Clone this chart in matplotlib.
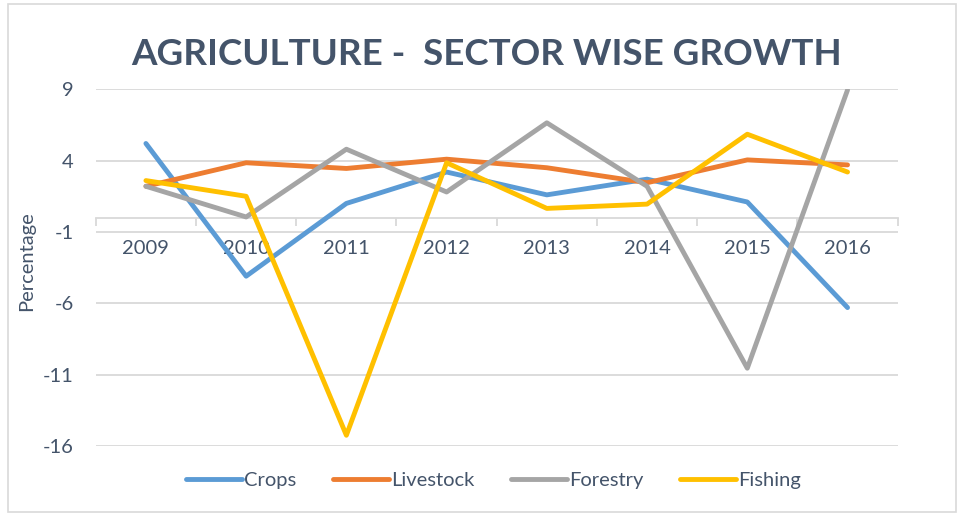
import matplotlib.pyplot as plt
from matplotlib.patches import Rectangle

years = ['2009', '2010', '2011', '2012', '2013', '2014', '2015', '2016']
crops = [5.2, -4.1, 1.0, 3.2, 1.6, 2.7, 1.1, -6.3]
livestock = [2.2, 3.85, 3.45, 4.1, 3.5, 2.45, 4.05, 3.7]
forestry = [2.2, 0.05, 4.8, 1.8, 6.65, 2.2, -10.55, 8.95]
fishing = [2.6, 1.5, -15.25, 3.85, 0.65, 0.95, 5.85, 3.2]
yticks = [9, 4, -1, -6, -11, -16]

series = [('Crops', crops, '#5B9BD5'),
          ('Livestock', livestock, '#ED7D31'),
          ('Forestry', forestry, '#A5A5A5'),
          ('Fishing', fishing, '#FFC000')]

plt.rcParams['font.family'] = ['Lato', 'DejaVu Sans']
plt.rcParams['axes.unicode_minus'] = False
text_col = '#44546A'
grid_col = '#D9D9D9'

fig = plt.figure(figsize=(9.58, 5.16), dpi=100)
ax = fig.add_axes([0.1, 0.1357, 0.837, 0.6913])

x = list(range(len(years)))
for name, vals, col in series:
    ax.plot(x, vals, color=col, lw=3.5, label=name,
            solid_capstyle='round', solid_joinstyle='round', zorder=3)

ax.set_xlim(-0.5, len(years) - 0.5)
ax.set_ylim(-16, 9)
ax.set_yticks(yticks)
ax.tick_params(axis='y', length=0, labelsize=14.5, labelcolor=text_col, pad=16)
ax.grid(axis='y', color=grid_col, lw=1.3)
ax.set_axisbelow(True)

# category axis sits on the zero line
for s in ['top', 'right', 'left']:
    ax.spines[s].set_visible(False)
ax.spines['bottom'].set_position(('data', 0))
ax.spines['bottom'].set_color(grid_col)
ax.spines['bottom'].set_linewidth(1.3)
ax.set_xticks(x)
ax.set_xticklabels(years)
ax.set_xticks([i - 0.5 for i in range(len(years) + 1)], minor=True)
ax.tick_params(axis='x', which='major', length=0, labelsize=14.5,
               labelcolor=text_col, pad=16)
ax.tick_params(axis='x', which='minor', length=6, width=1.3, color=grid_col,
               direction='out')

ax.set_ylabel('Percentage', fontsize=14.5, color=text_col)
ax.yaxis.set_label_coords(-0.076, 0.518)

fig.text(0.508, 0.895, 'AGRICULTURE -  SECTOR WISE GROWTH', ha='center',
         va='center', fontsize=26.5, fontweight='bold', color=text_col)

fig.legend(loc='center', bbox_to_anchor=(0.515, 0.068), ncol=4, frameon=False,
           fontsize=14.5, handlelength=2.8, handletextpad=0.1,
           columnspacing=1.8, labelcolor=text_col)

fig.patches.append(Rectangle((0.008, 0.008), 0.99, 0.984,
                             transform=fig.transFigure, fill=False,
                             edgecolor=grid_col, lw=1.2))

fig.savefig('out.png', dpi=100)
